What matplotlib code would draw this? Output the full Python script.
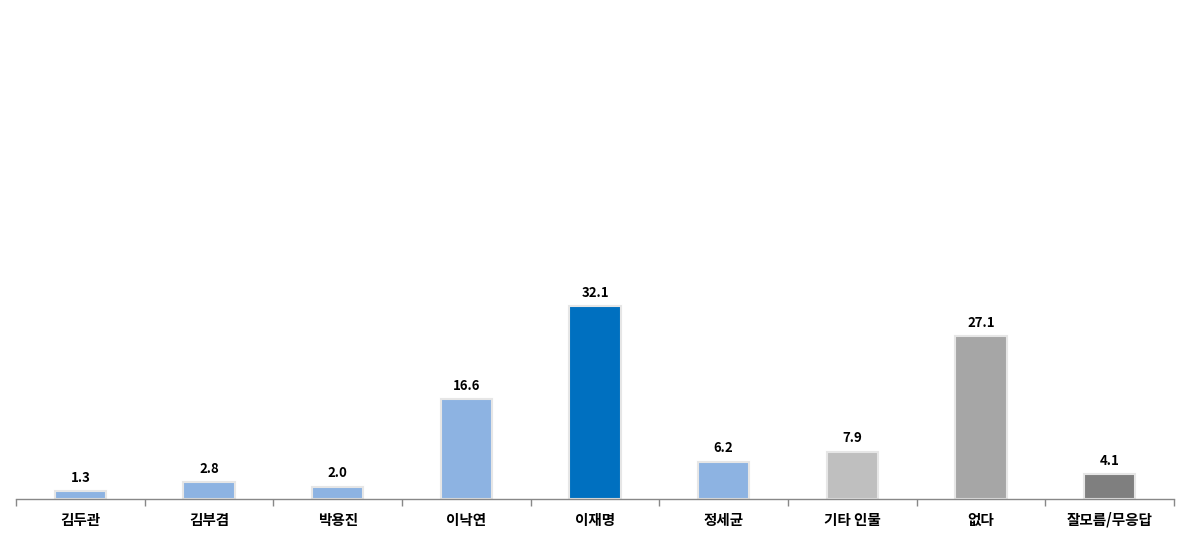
import matplotlib
matplotlib.use("Agg")
from matplotlib import pyplot as plt

plt.rcParams['font.family'] = ['Noto Sans CJK KR', 'DejaVu Sans']

# data
categories = ['김두관', '김부겸', '박용진', '이낙연', '이재명', '정세균', '기타 인물', '없다', '잘모름/무응답']
values = [1.3, 2.8, 2.0, 16.6, 32.1, 6.2, 7.9, 27.1, 4.1]
bar_colors = ['#8DB3E2', '#8DB3E2', '#8DB3E2', '#8DB3E2', '#0070C0',
              '#8DB3E2', '#BFBFBF', '#A6A6A6', '#7F7F7F']

fig = plt.figure(figsize=(11.98, 5.59), dpi=100)
ax = fig.add_axes([16/1198, 1 - 499/559, 1158/1198, 480/559])

x = list(range(len(categories)))
bars = ax.bar(x, values, width=0.4, color=bar_colors,
              edgecolor='#E6E6E6', linewidth=1.5, zorder=2)

for xi, v in zip(x, values):
    ax.text(xi, v + 1.1, f"{v:.1f}", ha='center', va='bottom',
            fontsize=9.5, fontweight='bold', color='black')

ax.set_xlim(-0.5, len(categories) - 0.5)
ax.set_ylim(0, 80)
ax.set_yticks([])
ax.set_xticks(x)
ax.set_xticklabels(categories, fontsize=10.5, fontweight='bold')
ax.tick_params(axis='x', length=0, pad=9)
# category separators
ax.set_xticks([i - 0.5 for i in range(len(categories) + 1)], minor=True)
ax.tick_params(axis='x', which='minor', length=5, color='#888888', width=1)

for side in ['top', 'right', 'left']:
    ax.spines[side].set_visible(False)
ax.spines['bottom'].set_color('#888888')
ax.spines['bottom'].set_linewidth(1)

fig.savefig('out.png', dpi=100)
